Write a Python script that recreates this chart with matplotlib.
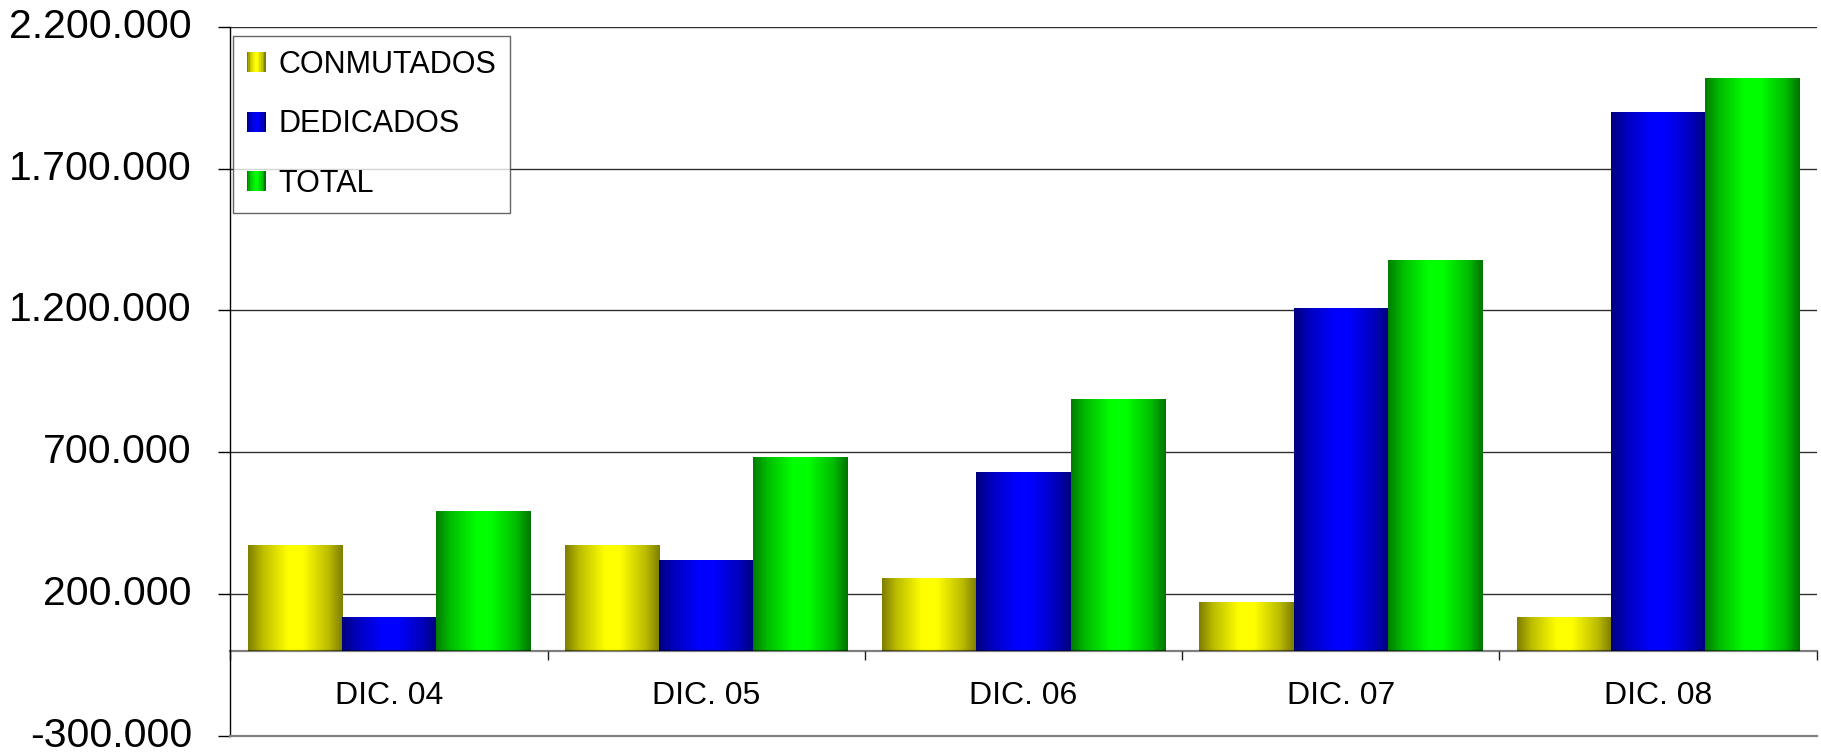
import numpy as np
import matplotlib
matplotlib.use("Agg")
import matplotlib.pyplot as plt
from matplotlib.legend_handler import HandlerBase
from matplotlib.patches import Rectangle, Patch
from matplotlib.ticker import FuncFormatter, FixedLocator

plt.rcParams['font.family'] = ['Liberation Sans', 'DejaVu Sans']

# Data
categories = ["DIC. 04", "DIC. 05", "DIC. 06", "DIC. 07", "DIC. 08"]
series_names = ["CONMUTADOS", "DEDICADOS", "TOTAL"]
conmutados = [372000, 372000, 256000, 171000, 118000]
dedicados = [118000, 319000, 630000, 1208000, 1899000]
total = [492000, 683000, 887000, 1377000, 2019000]
yticks = [-300000, 200000, 700000, 1200000, 1700000, 2200000]

base_colors = [(1.0, 1.0, 0.0), (0.0, 0.0, 1.0), (0.0, 1.0, 0.0)]
edge_dark = [0.5, 0.5, 0.46]


def shade(base, dark, n=64):
    # horizontal "cylinder" shading: dark edges, bright centre
    t = np.linspace(0, 1, n)
    f = np.interp(t, [0, 0.15, 0.42, 0.58, 0.85, 1], [0.5, 0.74, 1, 1, 0.74, dark])
    return np.array(base)[None, :] * f[:, None]


class GradientHandler(HandlerBase):
    def __init__(self, base, dark):
        super().__init__()
        self.base = base
        self.dark = dark

    def create_artists(self, legend, orig_handle, xdescent, ydescent,
                       width, height, fontsize, trans):
        cols = shade(self.base, self.dark, 12)
        w = width / len(cols)
        arts = []
        for i, c in enumerate(cols):
            r = Rectangle((-xdescent + i * w, -ydescent), w * 1.05, height,
                          facecolor=c, edgecolor='none', transform=trans)
            arts.append(r)
        return arts


fig = plt.figure(figsize=(18.21, 7.52), dpi=100)
ax = fig.add_axes([230.3 / 1821, 1 - 735.7 / 752, (1816.7 - 230.3) / 1821, (735.7 - 26.7) / 752])

x = np.arange(len(categories))
bw = 0.297
all_series = [conmutados, dedicados, total]
for k, vals in enumerate(all_series):
    bars = ax.bar(x + (k - 1) * bw, vals, width=bw, color=base_colors[k], zorder=1)
    grad = shade(base_colors[k], edge_dark[k])[None, :, :]
    for p in bars:
        x0, w, h = p.get_x(), p.get_width(), p.get_height()
        ax.imshow(grad, extent=(x0, x0 + w, 0, h), aspect='auto',
                  interpolation='bilinear', zorder=1.2)

ax.set_xlim(-0.5, len(categories) - 0.5)
ax.set_ylim(yticks[0], yticks[-1])

# y axis
ax.yaxis.set_major_locator(FixedLocator(yticks))
ax.yaxis.set_major_formatter(FuncFormatter(lambda v, _: f"{v:,.0f}".replace(",", ".")))
ax.tick_params(axis='y', direction='out', length=8.6, width=1, pad=19,
               labelsize=29.5, colors='black')
for lbl in ax.get_yticklabels():
    lbl.set_verticalalignment('center')
ax.grid(axis='y', color='#303030', linewidth=1.0, zorder=0)
ax.set_axisbelow(True)

# category axis at zero
ax.spines['bottom'].set_position(('data', 0))
ax.spines['bottom'].set_color((0, 0, 0, 0.5))
ax.spines['bottom'].set_linewidth(1.6)
ax.spines['bottom'].set_zorder(3)
ax.spines['top'].set_visible(False)
ax.spines['right'].set_visible(False)
ax.spines['left'].set_linewidth(1.0)
ax.axhline(yticks[0], color='#808080', linewidth=1.6, clip_on=False, zorder=3)

ax.set_xticks(np.arange(-0.5, len(categories)), labels=[""] * (len(categories) + 1))
ax.set_xticks(x, labels=categories, minor=True)
ax.tick_params(axis='x', which='major', direction='out', length=6.5, width=1, color='#202020')
ax.tick_params(axis='x', which='minor', length=0, pad=22, labelsize=23)

handles = [Patch(label=n) for n in series_names]
leg = ax.legend(handles=handles, loc='upper left',
                bbox_to_anchor=(233 / 1821, 1 - 36 / 752), bbox_transform=fig.transFigure,
                handler_map={h: GradientHandler(base_colors[i], edge_dark[i]) for i, h in enumerate(handles)},
                fontsize=22, frameon=True, fancybox=False, borderaxespad=0,
                borderpad=0.45, labelspacing=0.97, handlelength=0.62, handleheight=0.62,
                handletextpad=0.42)
leg.get_frame().set_edgecolor('#404040')
leg.get_frame().set_linewidth(1.0)

fig.savefig("out.png", dpi=100)
